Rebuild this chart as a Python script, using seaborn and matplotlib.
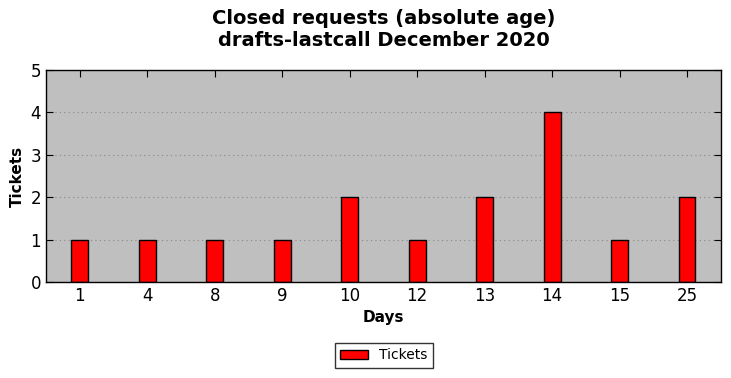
import matplotlib
matplotlib.use("Agg")
import matplotlib.pyplot as plt
import seaborn as sns
import pandas as pd

# DATA
days = ["1", "4", "8", "9", "10", "12", "13", "14", "15", "25"]
tickets = [1, 1, 1, 1, 2, 1, 2, 4, 1, 2]

df = pd.DataFrame({"Days": days, "Tickets": tickets})

sns.set_style("ticks")
plt.rcParams["font.family"] = ["DejaVu Sans"]
plt.rcParams["text.color"] = "black"
plt.rcParams["axes.labelcolor"] = "black"
plt.rcParams["xtick.color"] = "black"
plt.rcParams["ytick.color"] = "black"

fig, ax = plt.subplots(figsize=(7.31, 3.78), dpi=100)
fig.subplots_adjust(left=0.063, right=0.986, top=0.815, bottom=0.254)

sns.barplot(data=df, x="Days", y="Tickets", order=days, color="red",
            width=0.25, edgecolor="black", linewidth=1, saturation=1,
            label="Tickets", ax=ax)

ax.set_facecolor("#bfbfbf")
ax.set_xlim(-0.5, len(days) - 0.5)
ax.set_ylim(0, 5)
ax.set_yticks(range(0, 6))
ax.set_axisbelow(True)
ax.yaxis.grid(True, linestyle=(0, (1, 3)), color="#888888", linewidth=0.8)
ax.xaxis.grid(False)
for s in ax.spines.values():
    s.set_color("black")
    s.set_linewidth(1)
ax.tick_params(direction="in", top=True, right=True, labelsize=12, length=5, color="black")
ax.set_xlabel("Days", fontsize=11, fontweight="bold")
ax.set_ylabel("Tickets", fontsize=11, fontweight="bold")
ax.set_title("Closed requests (absolute age)\ndrafts-lastcall December 2020",
             fontsize=14, fontweight="bold", pad=17)

if ax.legend_:
    ax.legend_.remove()
handles, labels = ax.get_legend_handles_labels()
fig.legend(handles, labels, loc="center", bbox_to_anchor=(0.525, 0.06),
           frameon=True, fancybox=False, edgecolor="black", fontsize=10)

fig.savefig("out.png", dpi=100)
